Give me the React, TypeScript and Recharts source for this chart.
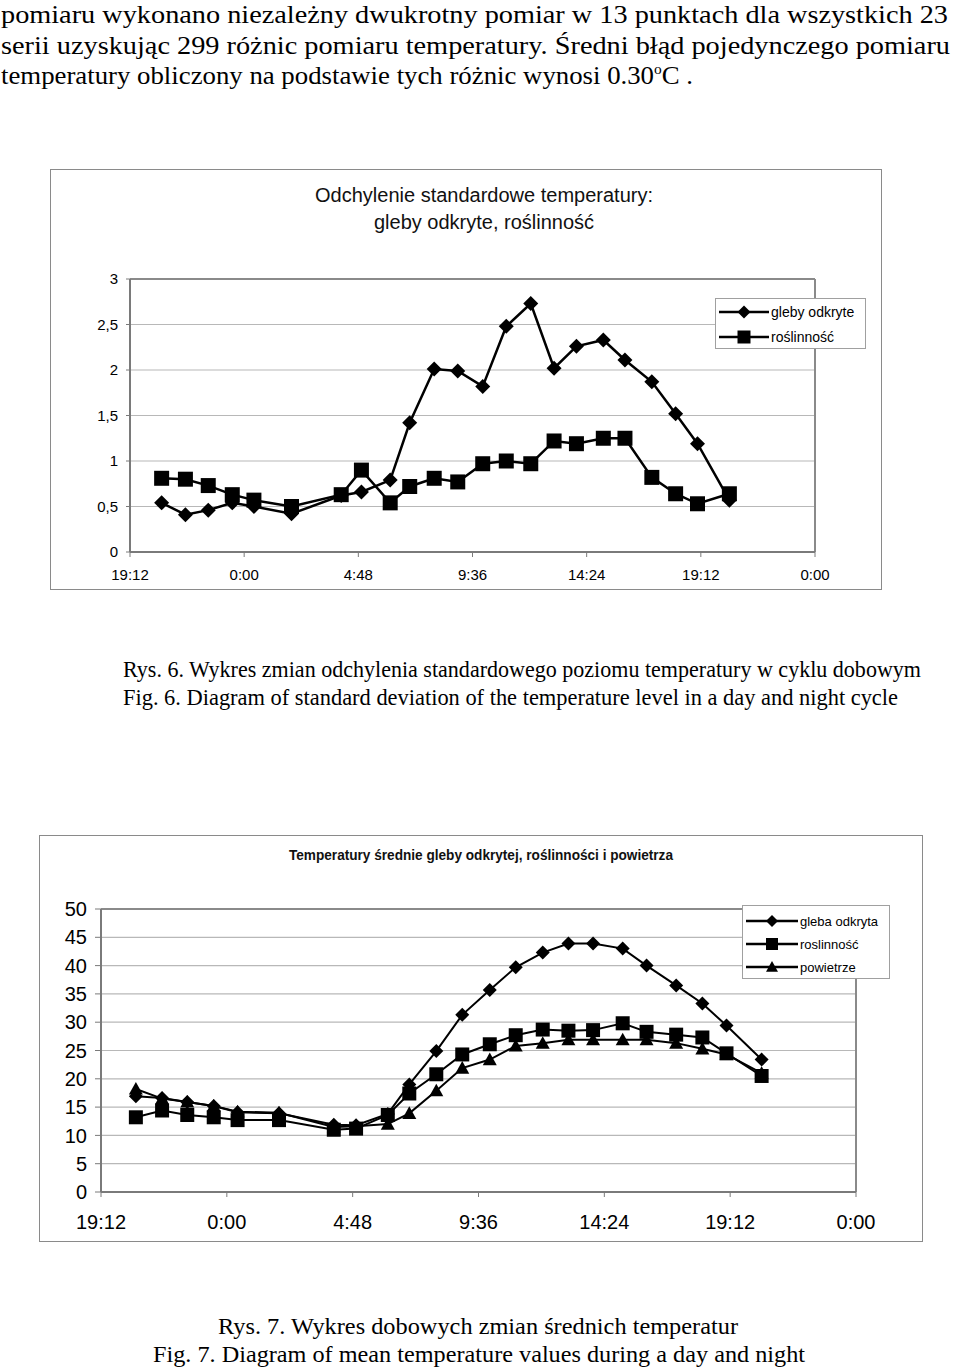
import React from 'react';
import { LineChart, Line, XAxis, YAxis, CartesianGrid, ReferenceLine, Legend } from 'recharts';

// ---- data ----
const times = [20.53, 21.53, 22.49, 23.5, 24.41, 25.99, 28.08, 28.93, 30.14, 30.96, 31.99, 32.98, 34.03, 35.02, 36.05, 37.03, 37.97, 39.1, 40.01, 41.14, 42.14, 43.06, 44.4];

const xTicks = [19.2, 24, 28.8, 33.6, 38.4, 43.2, 48];
const xTickLabels = ['19:12', '0:00', '4:48', '9:36', '14:24', '19:12', '0:00'];

const sdSoil = [0.54, 0.41, 0.46, 0.54, 0.5, 0.42, 0.62, 0.66, 0.79, 1.42, 2.01, 1.99, 1.82, 2.48, 2.73, 2.02, 2.26, 2.33, 2.11, 1.87, 1.52, 1.19, 0.57];
const sdVeg = [0.81, 0.8, 0.73, 0.63, 0.57, 0.5, 0.63, 0.9, 0.54, 0.72, 0.81, 0.77, 0.97, 1.0, 0.97, 1.22, 1.19, 1.25, 1.25, 0.82, 0.64, 0.53, 0.64];
const sdTicks = [0, 0.5, 1, 1.5, 2, 2.5, 3];
const sdTickLabels = ['0', '0,5', '1', '1,5', '2', '2,5', '3'];

const tSoil = [16.9, 16.6, 15.9, 15.2, 14.1, 13.9, 11.9, 11.8, 13.8, 19.0, 24.9, 31.3, 35.7, 39.7, 42.3, 43.9, 43.9, 43.0, 40.0, 36.5, 33.3, 29.4, 23.4];
const tVeg = [13.2, 14.4, 13.6, 13.2, 12.7, 12.7, 11.0, 11.2, 13.6, 17.4, 20.8, 24.3, 26.1, 27.7, 28.7, 28.5, 28.6, 29.8, 28.3, 27.8, 27.3, 24.5, 20.5];
const tAir = [18.2, 16.5, 15.9, 15.2, 14.2, 14.0, 11.5, 11.6, 12.0, 13.9, 17.9, 21.9, 23.4, 25.8, 26.3, 26.9, 26.9, 26.9, 26.9, 26.3, 25.3, 24.3, 21.0];
const tTicks = [0, 5, 10, 15, 20, 25, 30, 35, 40, 45, 50];

const chart1Names = ['gleby odkryte', 'roślinność'];
const chart2Names = ['gleba odkryta', 'roslinność', 'powietrze'];

const data1 = times.map((h, i) => ({ h, soil: sdSoil[i], veg: sdVeg[i] }));
const data2 = times.map((h, i) => ({ h, soil: tSoil[i], veg: tVeg[i], air: tAir[i] }));

// ---- markers ----
type Shape = 'diamond' | 'square' | 'triangle';
const markerPath = (shape: Shape, cx: number, cy: number, s: number) => {
  if (shape === 'diamond') return `M${cx},${cy - s}L${cx + s},${cy}L${cx},${cy + s}L${cx - s},${cy}Z`;
  if (shape === 'square') return `M${cx - s},${cy - s}H${cx + s}V${cy + s}H${cx - s}Z`;
  return `M${cx},${cy - s}L${cx + s},${cy + s * 0.8}L${cx - s},${cy + s * 0.8}Z`;
};
const makeDot = (shape: Shape, s: number) => (props: any) => {
  const { cx, cy, index } = props;
  if (cx == null || cy == null) return <g key={`d-${shape}-${index}`} />;
  return <path key={`d-${shape}-${index}`} d={markerPath(shape, cx, cy, s)} fill="#000" stroke="none" />;
};

const SANS = '"Liberation Sans", Arial, Helvetica, sans-serif';
const SERIF = '"Liberation Serif", "Times New Roman", serif';
const fmtX = (_v: number, i: number) => xTickLabels[i] ?? '';

const LegendBox = ({ names, shapes, width, height, rowGap, firstRow, lineW, s, fontSize }: any) => (
  <div style={{ width, height, boxSizing: 'border-box', border: '1px solid #a0a0a0', background: '#fff', position: 'relative' }}>
    {names.map((n: string, i: number) => (
      <div key={n} style={{ position: 'absolute', left: 0, top: firstRow + i * rowGap - 10, height: 20, display: 'flex', alignItems: 'center' }}>
        <svg width={lineW + 6} height={20} style={{ display: 'block' }}>
          <line x1={3} x2={3 + lineW} y1={10} y2={10} stroke="#000" strokeWidth={2.5} />
          <path d={markerPath(shapes[i], 3 + lineW / 2, 10, s)} fill="#000" />
        </svg>
        <span style={{ fontFamily: SANS, fontSize, color: '#000', marginLeft: -1 }}>{n}</span>
      </div>
    ))}
  </div>
);

const PageText = () => (
  <svg width={960} height={1368} style={{ position: 'absolute', left: 0, top: 0 }}>
    <g fontFamily={SERIF} fontSize={26} fill="#000">
      <text x={1} y={23} textLength={947} lengthAdjust="spacingAndGlyphs">pomiaru wykonano niezależny dwukrotny pomiar w 13 punktach dla wszystkich 23</text>
      <text x={1} y={53.5} textLength={949} lengthAdjust="spacingAndGlyphs">serii uzyskując 299 różnic pomiaru temperatury. Średni błąd pojedynczego pomiaru</text>
      <text x={1} y={84} textLength={692} lengthAdjust="spacingAndGlyphs">temperatury obliczony na podstawie tych różnic wynosi 0.30<tspan dy={-10} fontSize={15}>o</tspan><tspan dy={10}>C .</tspan></text>
    </g>
    <g fontFamily={SERIF} fontSize={23.5} fill="#000">
      <text x={123} y={677} fontSize={23} textLength={798} lengthAdjust="spacingAndGlyphs">Rys. 6. Wykres zmian odchylenia standardowego poziomu temperatury w cyklu dobowym</text>
      <text x={123} y={705} textLength={775} lengthAdjust="spacingAndGlyphs">Fig. 6. Diagram of standard deviation of the temperature level in a day and night cycle</text>
      <text x={218} y={1334} textLength={520} lengthAdjust="spacingAndGlyphs">Rys. 7. Wykres dobowych zmian średnich temperatur</text>
      <text x={153} y={1362} textLength={652} lengthAdjust="spacingAndGlyphs">Fig. 7. Diagram of mean temperature values during a day and night</text>
    </g>
    <g fontFamily={SANS} fill="#111">
      <text x={484} y={202} fontSize={20} textAnchor="middle">Odchylenie standardowe temperatury:</text>
      <text x={484} y={229} fontSize={20} textAnchor="middle">gleby odkryte, roślinność</text>
      <text x={289} y={860} fontSize={14} fontWeight="bold" textLength={384} lengthAdjust="spacingAndGlyphs">Temperatury średnie gleby odkrytej, roślinności  i powietrza</text>
    </g>
  </svg>
);

const Chart1 = () => (
  <div style={{ position: 'absolute', left: 50, top: 169, width: 832, height: 421 }}>
    <div style={{ position: 'absolute', inset: 0, border: '1px solid #8a8a8a', boxSizing: 'border-box' }} />
    <LineChart width={832} height={421} data={data1} margin={{ top: 110, right: 67, bottom: 0, left: 0 }}>
      <CartesianGrid vertical={false} stroke="#b8b8b8" strokeWidth={1.2} />
      <XAxis dataKey="h" type="number" domain={[19.2, 48]} ticks={xTicks} tickFormatter={fmtX} height={38}
        axisLine={{ stroke: '#7a7a7a', strokeWidth: 2 }} tickLine={{ stroke: '#7a7a7a' }} tickSize={5} tickMargin={12}
        tick={{ fontSize: 15, fill: '#000', fontFamily: SANS }} interval={0} allowDataOverflow />
      <YAxis type="number" domain={[0, 3]} ticks={sdTicks} tickFormatter={(v: number) => sdTickLabels[sdTicks.indexOf(v)] ?? String(v)} width={80}
        axisLine={{ stroke: '#7a7a7a', strokeWidth: 2 }} tickLine={{ stroke: '#7a7a7a' }} tickSize={4} tickMargin={8}
        tick={{ fontSize: 15, fill: '#000', fontFamily: SANS }} interval={0} />
      <ReferenceLine y={3} stroke="#8a8a8a" strokeWidth={2} />
      <ReferenceLine x={48} stroke="#8a8a8a" strokeWidth={2} />
      <Line dataKey="soil" name={chart1Names[0]} stroke="#000" strokeWidth={2.5} dot={makeDot('diamond', 7.5)} activeDot={false} isAnimationActive={false} />
      <Line dataKey="veg" name={chart1Names[1]} stroke="#000" strokeWidth={2.5} dot={makeDot('square', 7.5)} activeDot={false} isAnimationActive={false} />
      <Legend layout="vertical" align="center" verticalAlign="middle" wrapperStyle={{ left: 665, top: 129, width: 151, height: 51 }}
        content={() => <LegendBox names={chart1Names} shapes={['diamond', 'square']} width={151} height={51} rowGap={25} firstRow={13} lineW={50} s={6.5} fontSize={14} />} />
    </LineChart>
  </div>
);

const Chart2 = () => (
  <div style={{ position: 'absolute', left: 39, top: 835, width: 884, height: 407 }}>
    <div style={{ position: 'absolute', inset: 0, border: '1px solid #8a8a8a', boxSizing: 'border-box' }} />
    <LineChart width={884} height={407} data={data2} margin={{ top: 74, right: 67, bottom: 0, left: 0 }}>
      <CartesianGrid vertical={false} stroke="#b8b8b8" strokeWidth={1.2} />
      <XAxis dataKey="h" type="number" domain={[19.2, 48]} ticks={xTicks} tickFormatter={fmtX} height={50}
        axisLine={{ stroke: '#7a7a7a', strokeWidth: 2 }} tickLine={{ stroke: '#7a7a7a' }} tickSize={5} tickMargin={18}
        tick={{ fontSize: 20, fill: '#000', fontFamily: SANS }} interval={0} allowDataOverflow />
      <YAxis type="number" domain={[0, 50]} ticks={tTicks} width={62}
        axisLine={{ stroke: '#7a7a7a', strokeWidth: 2 }} tickLine={{ stroke: '#7a7a7a' }} tickSize={6} tickMargin={8}
        tick={{ fontSize: 20, fill: '#000', fontFamily: SANS }} interval={0} />
      <ReferenceLine y={50} stroke="#8a8a8a" strokeWidth={2} />
      <ReferenceLine x={48} stroke="#8a8a8a" strokeWidth={2} />
      <Line dataKey="soil" name={chart2Names[0]} stroke="#000" strokeWidth={2} dot={makeDot('diamond', 7)} activeDot={false} isAnimationActive={false} />
      <Line dataKey="veg" name={chart2Names[1]} stroke="#000" strokeWidth={2} dot={makeDot('square', 7)} activeDot={false} isAnimationActive={false} />
      <Line dataKey="air" name={chart2Names[2]} stroke="#000" strokeWidth={2} dot={makeDot('triangle', 7)} activeDot={false} isAnimationActive={false} />
      <Legend layout="vertical" align="center" verticalAlign="middle" wrapperStyle={{ left: 703, top: 70, width: 148, height: 74 }}
        content={() => <LegendBox names={chart2Names} shapes={['diamond', 'square', 'triangle']} width={148} height={74} rowGap={23} firstRow={15} lineW={52} s={6} fontSize={13} />} />
    </LineChart>
  </div>
);

export default function App() {
  return (
    <div style={{ position: 'absolute', left: 0, top: 0, width: 960, height: 1368, background: '#fff', overflow: 'hidden' }}>
      <PageText />
      <Chart1 />
      <Chart2 />
    </div>
  );
}
